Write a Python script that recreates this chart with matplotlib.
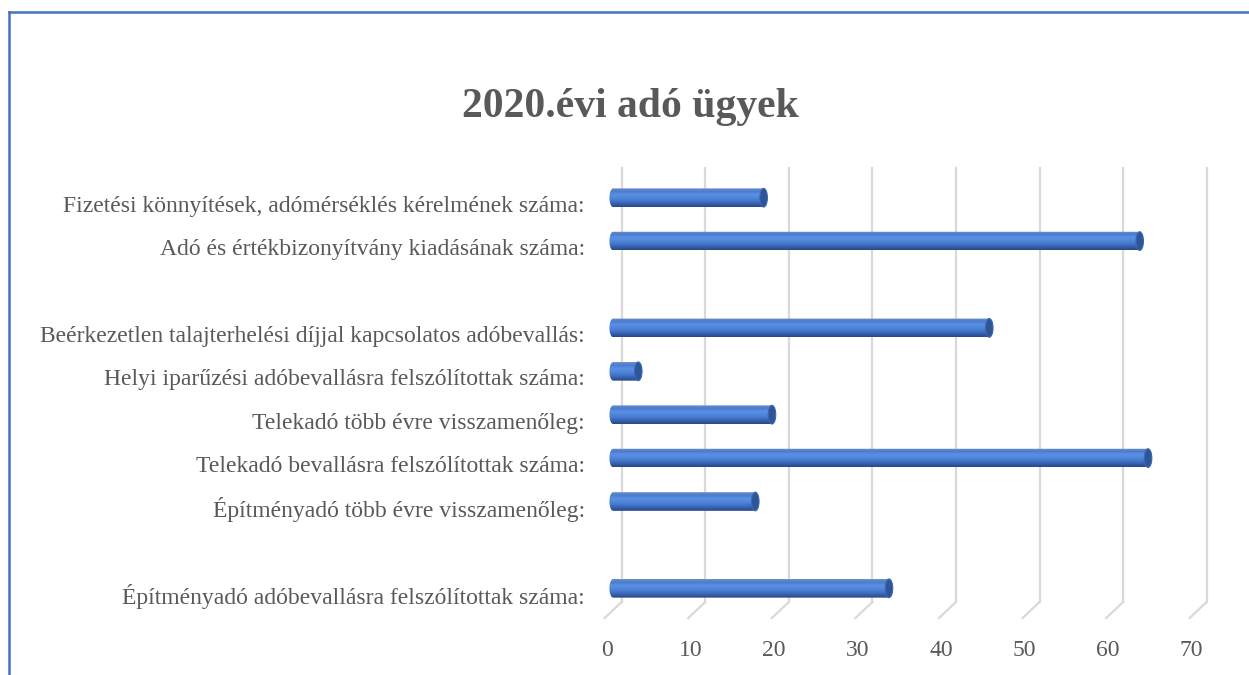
import numpy as np
import matplotlib.pyplot as plt
from matplotlib.colors import LinearSegmentedColormap
from matplotlib.patches import Ellipse, PathPatch
from matplotlib.path import Path
from matplotlib.transforms import ScaledTranslation, Bbox, TransformedBbox

# categories from bottom to top, blank ones are empty rows in the original
labels = [
    "Építményadó adóbevallásra felszólítottak száma:",
    "",
    "Építményadó több évre visszamenőleg:",
    "Telekadó bevallásra felszólítottak száma:",
    "Telekadó több évre visszamenőleg:",
    "Helyi iparűzési adóbevallásra felszólítottak száma:",
    "Beérkezetlen talajterhelési díjjal kapcsolatos adóbevallás:",
    "",
    "Adó és értékbizonyítvány kiadásának száma:",
    "Fizetési könnyítések, adómérséklés kérelmének száma:",
]
values = [33, 0, 17, 64, 19, 3, 45, 0, 63, 18]
xticks = [0, 10, 20, 30, 40, 50, 60, 70]

TXT = "#595959"
GRID = "#d9d9d9"
BLUE = "#4472C4"

fig = plt.figure(figsize=(12.49, 6.75), dpi=100)
W, H = 1249, 675
ax = fig.add_axes([621.7 / W, 1 - 602 / H, 585 / W, 434 / H])
ax.set_xlim(0, 70)
ax.set_ylim(-0.5, 9.5)
for s in ax.spines.values():
    s.set_visible(False)

# 3d depth offsets in pixels
ddx, ddy = -17, -16
px_x = 585 / 70
px_y = 434 / 10

# back-wall gridlines and floor diagonals
for t in xticks:
    ax.plot([t, t], [-0.5, 9.5], color=GRID, lw=1.6, clip_on=False, zorder=1)
    ax.plot([t, t + ddx / px_x], [-0.5, -0.5 + ddy / px_y], color=GRID,
            lw=1.6, clip_on=False, zorder=1)

ax.set_xticks(xticks)
ax.set_xticklabels([str(t) for t in xticks], fontsize=17, color=TXT,
                   family="Liberation Serif")
ax.tick_params(axis="x", length=0, pad=27)
for lab in ax.get_xticklabels():
    lab.set_transform(lab.get_transform() + ScaledTranslation(-15 / 100, 0, fig.dpi_scale_trans))

ypos = np.arange(len(labels))
ax.set_yticks(ypos)
ax.set_yticklabels(labels, fontsize=17, color=TXT, family="Liberation Serif")
ax.tick_params(axis="y", length=0, pad=26.5)
for lab in ax.get_yticklabels():
    lab.set_transform(lab.get_transform() + ScaledTranslation(0, -14 / 100, fig.dpi_scale_trans))

# cylinder bars
off = ax.transData + ScaledTranslation(-8.5 / 100, -8 / 100, fig.dpi_scale_trans)
bh = 0.43
cmap = LinearSegmentedColormap.from_list(
    "cyl", ["#284682", "#3460ae", "#4677cc", "#5088dc", "#5a90e4", "#4a7bcf", "#6f8fc8"])
grad = np.linspace(0, 1, 64).reshape(-1, 1)
bars = ax.barh(ypos, values, height=bh, color=BLUE, zorder=3)
cw = 0.9
th = np.linspace(np.pi / 2, 3 * np.pi / 2, 25)
for b, v, y in zip(bars, values, ypos):
    b.set_visible(False)
    if v == 0:
        continue
    b.set_transform(off)
    im = ax.imshow(grad, extent=[-cw / 2, v, y - bh / 2, y + bh / 2], cmap=cmap,
                   aspect="auto", origin="lower", zorder=4, interpolation="bilinear")
    im.set_transform(off)
    verts = [(cw / 2 * np.cos(a), y + bh / 2 * np.sin(a)) for a in th]
    verts += [(v, y - bh / 2), (v, y + bh / 2), (0, y + bh / 2)]
    clip = PathPatch(Path(verts, closed=True), transform=off)
    clip.set_visible(False)
    ax.add_patch(clip)
    im.set_clip_path(clip)
    im.set_clip_box(TransformedBbox(Bbox([[-cw, y - bh], [v + cw, y + bh]]), off))
    cap = Ellipse((v, y), cw, bh, facecolor="#2f5597", edgecolor="#3b67b5",
                  lw=0.8, transform=off, zorder=5)
    ax.add_patch(cap)

ax.set_xlim(0, 70)
ax.set_ylim(-0.5, 9.5)

fig.text(630 / W, 1 - 107 / H, "2020.évi adó ügyek", ha="center", va="center",
         fontsize=30, fontweight="bold", color=TXT, family="Liberation Serif")

# chart frame (left and top edges visible)
fig.add_artist(plt.Line2D([9 / W, 9 / W], [0, 1 - 12 / H], color=BLUE, lw=1.8))
fig.add_artist(plt.Line2D([9 / W, 1], [1 - 12 / H, 1 - 12 / H], color=BLUE, lw=1.8))

fig.savefig("out.png", dpi=100)
